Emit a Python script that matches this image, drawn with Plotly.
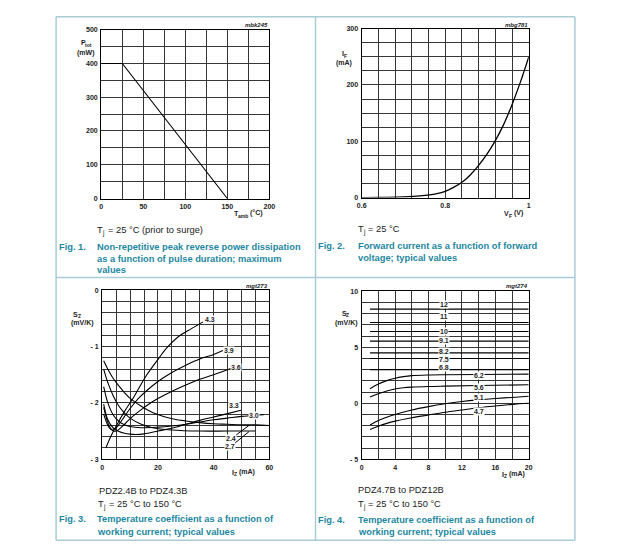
import plotly.graph_objects as go

W, H = 633, 556

# ---------------- data ----------------
# Fig 1: Ptot vs Tamb
f1_tamb = [0, 25, 150]
f1_ptot = [400, 400, 0]
f1_xticks = [0, 50, 100, 150, 200]
f1_xlabels = ["0", "50", "100", "150", "200"]
f1_yticks = [0, 100, 200, 300, 400, 500]
f1_ylabels = ["0", "100", "200", "300", "400", "500"]

# Fig 2: IF vs VF
f2_vf = [0.6, 0.65, 0.7, 0.74, 0.78, 0.8, 0.82, 0.84, 0.86, 0.88, 0.9, 0.92, 0.94, 0.96, 0.98, 1.0]
f2_if = [0, 0.3, 1.0, 2.8, 7, 11, 18, 27, 40, 57, 77, 101, 130, 165, 205, 250]
f2_xticks = [0.6, 0.8, 1.0]
f2_xlabels = ["0.6", "0.8", "1"]
f2_yticks = [0, 100, 200, 300]
f2_ylabels = ["0", "100", "200", "300"]

# Fig 3: SZ vs IZ (PDZ2.4B to PDZ4.3B)
f3_x_24 = [0.5, 2, 4, 6, 8, 10, 14, 18, 22, 26, 30, 35, 40, 45, 50, 55, 60]
f3_y_24 = [-1.25, -1.40, -1.57, -1.70, -1.82, -1.92, -2.06, -2.17, -2.24, -2.29, -2.32, -2.35, -2.37, -2.38, -2.39, -2.39, -2.40]
f3_x_27 = [0.5, 2, 4, 6, 8, 10, 14, 18, 25, 35, 45, 55]
f3_y_27 = [-1.40, -1.64, -1.88, -2.06, -2.18, -2.27, -2.38, -2.44, -2.48, -2.50, -2.50, -2.50]
f3_x_30 = [0.5, 2, 4, 6, 8, 10, 14, 20, 25, 30, 35, 40, 45, 50, 58]
f3_y_30 = [-1.71, -2.00, -2.22, -2.33, -2.39, -2.42, -2.44, -2.43, -2.41, -2.38, -2.34, -2.30, -2.27, -2.24, -2.21]
f3_x_33 = [0.5, 2, 4, 6, 8, 10, 12, 15, 20, 25, 30, 35, 40, 45, 49.8]
f3_y_33 = [-2.02, -2.30, -2.45, -2.51, -2.54, -2.555, -2.56, -2.55, -2.50, -2.45, -2.38, -2.31, -2.25, -2.19, -2.13]
f3_x_36 = [0.5, 2, 3, 4, 5, 6, 8, 10, 14, 18, 22, 26, 30, 35, 40, 46.2]
f3_y_36 = [-2.08, -2.35, -2.45, -2.50, -2.50, -2.47, -2.38, -2.28, -2.12, -1.98, -1.87, -1.77, -1.68, -1.58, -1.50, -1.39]
f3_x_39 = [0.5, 2, 3, 4, 5, 6, 8, 10, 13, 16, 20, 25, 30, 35, 40, 43.3]
f3_y_39 = [-2.20, -2.40, -2.47, -2.48, -2.44, -2.38, -2.24, -2.10, -1.92, -1.78, -1.62, -1.46, -1.33, -1.22, -1.14, -1.07]
f3_x_43 = [1.3, 3, 5.1, 8, 10.9, 13, 16, 20.4, 23, 27.4, 32, 36.2]
f3_y_43 = [-2.80, -2.60, -2.40, -2.15, -1.93, -1.75, -1.50, -1.20, -1.03, -0.82, -0.68, -0.56]
f3_labels = ["4.3", "3.9", "3.6", "3.3", "3.0"]
f3_label_x = [38.8, 45.4, 48.2, 47.4, 54.5]
f3_label_y = [-0.51, -1.07, -1.37, -2.05, -2.22]
f3_lead_labels = ["2.4", "2.7"]
f3_lead_from_x = [46.2, 46.0]
f3_lead_from_y = [-2.64, -2.78]
f3_lead_to_x = [52.7, 52.7]
f3_lead_to_y = [-2.40, -2.51]
f3_xticks = [0, 20, 40, 60]
f3_xlabels = ["0", "20", "40", "60"]
f3_yticks = [-3, -2, -1, 0]
f3_ylabels = ["- 3", "- 2", "- 1", "0"]

# Fig 4: SZ vs IZ (PDZ4.7B to PDZ12B)
f4_flat_names = ["12", "11", "10", "9.1", "8.2", "7.5", "6.8"]
f4_flat_x = [1, 20]
f4_flat_y = [8.41, 7.22, 6.41, 5.55, 4.5, 4.0, 3.0]
f4_flat_label_y = [8.85, 7.75, 6.45, 5.59, 4.62, 3.9, 3.15]
f4_x_62 = [1, 2, 3, 4, 5, 6, 8, 10, 14, 20]
f4_y_62 = [1.3, 1.72, 2.02, 2.24, 2.38, 2.47, 2.53, 2.55, 2.57, 2.6]
f4_x_56 = [1, 2, 3, 4, 5, 6, 8, 10, 14, 20]
f4_y_56 = [0.55, 0.85, 1.1, 1.27, 1.38, 1.44, 1.5, 1.53, 1.58, 1.65]
f4_x_51 = [1, 2, 3, 4, 6, 8, 10, 12, 14, 16, 18, 20]
f4_y_51 = [-1.95, -1.55, -1.25, -1.0, -0.6, -0.3, -0.05, 0.15, 0.3, 0.42, 0.52, 0.62]
f4_x_47 = [1, 2, 3, 4, 6, 8, 10, 12, 14, 16, 18, 20]
f4_y_47 = [-2.35, -2.05, -1.8, -1.6, -1.3, -1.05, -0.8, -0.6, -0.4, -0.25, -0.1, 0.0]
f4_labels = ["6.2", "5.6", "5.1", "4.7"]
f4_label_x = [14.1, 14.1, 14.1, 14.1]
f4_label_y = [2.44, 1.41, 0.47, -0.74]
f4_xticks = [0, 4, 8, 12, 16, 20]
f4_xlabels = ["0", "4", "8", "12", "16", "20"]
f4_yticks = [-5, 0, 5, 10]
f4_ylabels = ["- 5", "0", "5", "10"]

# minor grid spacing per axis
f1_xminor, f1_yminor = 25, 50
f2_xminor, f2_yminor = 0.04, 25
f3_xminor, f3_yminor = 5, 0.2
f4_xminor, f4_yminor = 2, 1

# ---------------- styling ----------------
FONT = "Liberation Sans, Arial, sans-serif"
TEAL = "#1d87a1"
BORDER = "#a9ccd5"
GRID = "#363636"
INK = "#222"


def px(x):
    return x / W


def py(y):
    return 1 - y / H


fig = go.Figure()

fig.add_trace(go.Scatter(x=f1_tamb, y=f1_ptot, mode="lines", line=dict(color="black", width=1.1),
                         xaxis="x", yaxis="y"))
fig.add_trace(go.Scatter(x=f2_vf, y=f2_if, mode="lines", line=dict(color="black", width=1.3, shape="spline"),
                         xaxis="x2", yaxis="y2"))
for xs, ys in [(f3_x_24, f3_y_24), (f3_x_27, f3_y_27), (f3_x_30, f3_y_30), (f3_x_33, f3_y_33),
               (f3_x_36, f3_y_36), (f3_x_39, f3_y_39), (f3_x_43, f3_y_43)]:
    fig.add_trace(go.Scatter(x=xs, y=ys, mode="lines", line=dict(color="black", width=1.1, shape="spline"),
                             xaxis="x3", yaxis="y3"))
for yv in f4_flat_y:
    fig.add_trace(go.Scatter(x=f4_flat_x, y=[yv, yv], mode="lines", line=dict(color="black", width=1.1),
                             xaxis="x4", yaxis="y4"))
for xs, ys in [(f4_x_62, f4_y_62), (f4_x_56, f4_y_56), (f4_x_51, f4_y_51), (f4_x_47, f4_y_47)]:
    fig.add_trace(go.Scatter(x=xs, y=ys, mode="lines", line=dict(color="black", width=1.1, shape="spline"),
                             xaxis="x4", yaxis="y4"))


def axis(dom, rng, tv, tt, anchor, minor, ticklen):
    return dict(domain=dom, range=rng, anchor=anchor, tickmode="array", tickvals=tv,
                ticktext=["<b>%s</b>" % t for t in tt],
                showgrid=True, gridcolor=GRID, gridwidth=1.4, zeroline=False,
                minor=dict(tick0=rng[0], dtick=minor, showgrid=True, gridcolor=GRID, gridwidth=1.4,
                           ticks="", ticklen=0),
                showline=True, mirror=True, linecolor="black", linewidth=1.4,
                ticks="outside", ticklen=ticklen, tickcolor="rgba(0,0,0,0)",
                tickfont=dict(family=FONT, size=7, color=INK), fixedrange=True)


dom = {
    1: ([px(98), px(269)], [py(197), py(26)]),
    2: ([px(363), px(533)], [py(196), py(25)]),
    3: ([px(99), px(269)], [py(461), py(290)]),
    4: ([px(363), px(533)], [py(461), py(291)]),
}

fig.update_layout(
    width=W, height=H, margin=dict(l=0, r=0, t=0, b=0), autosize=False,
    paper_bgcolor="white", plot_bgcolor="white", showlegend=False,
    font=dict(family=FONT, color=INK),
    xaxis=axis(dom[1][0], [0, 200], f1_xticks, f1_xlabels, "y", f1_xminor, 1),
    yaxis=axis(dom[1][1], [0, 500], f1_yticks, f1_ylabels, "x", f1_yminor, 1),
    xaxis2=axis(dom[2][0], [0.6, 1.0], f2_xticks, f2_xlabels, "y2", f2_xminor, 1),
    yaxis2=axis(dom[2][1], [0, 300], f2_yticks, f2_ylabels, "x2", f2_yminor, 1),
    xaxis3=axis(dom[3][0], [0, 60], f3_xticks, f3_xlabels, "y3", f3_xminor, 1),
    yaxis3=axis(dom[3][1], [-3, 0], f3_yticks, f3_ylabels, "x3", f3_yminor, 1),
    xaxis4=axis(dom[4][0], [0, 20], f4_xticks, f4_xlabels, "y4", f4_xminor, 1),
    yaxis4=axis(dom[4][1], [-5, 10], f4_yticks, f4_ylabels, "x4", f4_yminor, 1),
)

ann = []


def ptext(x, y, text, size=7, color=INK, xanchor="left", bold=False, italic=False):
    t = text
    if bold:
        t = "<b>%s</b>" % t
    if italic:
        t = "<i>%s</i>" % t
    ann.append(dict(x=px(x), y=py(y), xref="paper", yref="paper", text=t, showarrow=False,
                    xanchor=xanchor, yanchor="middle", align="left", borderpad=0,
                    font=dict(family=FONT, size=size, color=color)))


def subtext(x, y, main, sub, rest, main_w, sub_w, size=7, subsize=5, bold=True, gap=2.0, shift=2.2):
    """main text, a lowered smaller subscript, then optional rest text"""
    ptext(x, y, main, size=size, bold=bold)
    ptext(x + main_w, y + shift, sub, size=subsize, bold=bold)
    if rest:
        ptext(x + main_w + sub_w + gap, y, rest, size=size, bold=bold)


# axis titles / codes
subtext(76, 39, "P", "tot", None, 4.8, 0)
ptext(82, 50, "(mW)", bold=True, xanchor="center")
subtext(232, 212, "T", "amb", "(°C)", 4.4, 10.4)
ptext(269, 21, "mbk245", size=6, xanchor="right", bold=True, italic=True)

subtext(341.5, 50, "I", "F", None, 2.1, 0)
ptext(345, 60, "(mA)", bold=True, xanchor="center")
subtext(507, 212, "V", "F", "(V)", 4.8, 3.2)
ptext(533, 21, "mbg781", size=6, xanchor="right", bold=True, italic=True)

subtext(68.5, 314, "S", "Z", None, 4.8, 0)
ptext(79, 323, "(mV/K)", bold=True, xanchor="center")
subtext(230, 474, "I", "Z", "(mA)", 2.1, 3.2)
ptext(269, 286, "mgt273", size=6, xanchor="right", bold=True, italic=True)

subtext(341.7, 313, "S", "Z", None, 4.8, 0)
ptext(348, 323, "(mV/K)", bold=True, xanchor="center")
subtext(505, 476, "I", "Z", "(mA)", 2.1, 3.2)
ptext(533, 286, "mgt274", size=6, xanchor="right", bold=True, italic=True)

# captions
CAP = 9.3
SUBC = 6.5


def tj(x, y, rest):
    subtext(x, y, "T", "j", rest, 4.9, 1.5, size=CAP, subsize=SUBC, bold=False, gap=4.3, shift=3.0)


tj(93, 229, "= 25 °C (prior to surge)")
ptext(54, 246, "Fig. 1.", size=CAP, color=TEAL, bold=True)
ptext(93, 246, "Non-repetitive peak reverse power dissipation", size=CAP, color=TEAL, bold=True)
ptext(93, 258, "as a function of pulse duration; maximum", size=CAP, color=TEAL, bold=True)
ptext(93, 269, "values", size=CAP, color=TEAL, bold=True)

tj(358, 228, "= 25 °C")
ptext(318, 245, "Fig. 2.", size=CAP, color=TEAL, bold=True)
ptext(358, 245, "Forward current as a function of forward", size=CAP, color=TEAL, bold=True)
ptext(358, 257, "voltage; typical values", size=CAP, color=TEAL, bold=True)

ptext(95, 493, "PDZ2.4B to PDZ4.3B", size=CAP)
tj(94, 506, "= 25 °C to 150 °C")
ptext(54, 522, "Fig. 3.", size=CAP, color=TEAL, bold=True)
ptext(93, 522, "Temperature coefficient as a function of", size=CAP, color=TEAL, bold=True)
ptext(93, 535, "working current; typical values", size=CAP, color=TEAL, bold=True)

ptext(358, 492, "PDZ4.7B to PDZ12B", size=CAP)
tj(358, 506, "= 25 °C to 150 °C")
ptext(318, 523, "Fig. 4.", size=CAP, color=TEAL, bold=True)
ptext(358, 523, "Temperature coefficient as a function of", size=CAP, color=TEAL, bold=True)
ptext(358, 535, "working current; typical values", size=CAP, color=TEAL, bold=True)

# curve labels fig 3
for t, lx, ly in zip(f3_labels, f3_label_x, f3_label_y):
    ann.append(dict(x=lx, y=ly, xref="x3", yref="y3", text="<b>%s</b>" % t, showarrow=False,
                    bgcolor="white", borderpad=0, font=dict(family=FONT, size=7, color=INK)))
for t, fx, fy, tx, ty in zip(f3_lead_labels, f3_lead_from_x, f3_lead_from_y, f3_lead_to_x, f3_lead_to_y):
    ann.append(dict(x=tx, y=ty, xref="x3", yref="y3", ax=fx, ay=fy, axref="x3", ayref="y3",
                    text="<b>%s</b>" % t, showarrow=True, arrowhead=0, arrowwidth=1, arrowcolor="black",
                    bgcolor="white", borderpad=0, font=dict(family=FONT, size=7, color=INK)))

# curve labels fig 4
for t, ly in zip(f4_flat_names, f4_flat_label_y):
    ann.append(dict(x=9.85, y=ly, xref="x4", yref="y4", text="<b>%s</b>" % t, showarrow=False,
                    bgcolor="white", borderpad=0, font=dict(family=FONT, size=7, color=INK)))
for t, lx, ly in zip(f4_labels, f4_label_x, f4_label_y):
    ann.append(dict(x=lx, y=ly, xref="x4", yref="y4", text="<b>%s</b>" % t, showarrow=False,
                    bgcolor="white", borderpad=0, font=dict(family=FONT, size=7, color=INK)))

fig.update_layout(annotations=ann)

# table borders
shapes = []
for xv in [52, 316, 580]:
    shapes.append(dict(type="line", xref="paper", yref="paper", x0=px(xv), x1=px(xv), y0=py(13), y1=py(543),
                       line=dict(color=BORDER, width=1.5)))
for yv in [13, 277, 543]:
    shapes.append(dict(type="line", xref="paper", yref="paper", x0=px(52), x1=px(580), y0=py(yv), y1=py(yv),
                       line=dict(color=BORDER, width=1.5)))
fig.update_layout(shapes=shapes)

fig.write_html("out.html", config={"displayModeBar": False},
               post_script="document.body.style.margin='0px';document.body.style.overflow='hidden';")
